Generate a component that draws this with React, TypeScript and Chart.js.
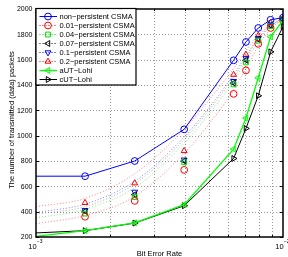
import React, { useEffect, useRef } from 'react';
import { Chart, registerables } from 'chart.js';

Chart.register(...registerables);

// ---- data ----
const BER_SOLID = [0.00063, 0.00158, 0.00251, 0.00398, 0.00631, 0.00708, 0.00794, 0.00891, 0.01];
const BER_SIM = [0.00158, 0.00251, 0.00398, 0.00631, 0.00708, 0.00794, 0.00891, 0.01];
const BER_THEORY = [0.001, 0.00158, 0.00251, 0.00398, 0.00501, 0.00631, 0.00708, 0.00794, 0.00891, 0.01];

const NON_PERSISTENT = [680, 680, 800, 1050, 1595, 1740, 1850, 1915, 1932];
const AUT_LOHI = [160, 250, 312, 455, 893, 1140, 1457, 1781, 1910];
const CUT_LOHI = [214, 250, 310, 447, 820, 1057, 1315, 1662, 1860];

const P001_SIM = [360, 485, 730, 1330, 1515, 1725, 1850, 1910];
const P004_SIM = [385, 516, 790, 1405, 1578, 1750, 1865, 1920];
const P007_SIM = [403, 535, 800, 1415, 1595, 1760, 1870, 1920];
const P01_SIM = [411, 556, 810, 1430, 1610, 1770, 1875, 1925];
const P02_SIM = [470, 625, 880, 1482, 1640, 1790, 1890, 1928];

const P001_THEORY = [305, 370, 520, 860, 1090, 1360, 1530, 1710, 1845, 1915];
const P004_THEORY = [350, 420, 590, 940, 1170, 1430, 1590, 1745, 1860, 1920];
const P007_THEORY = [380, 440, 620, 970, 1200, 1460, 1615, 1760, 1865, 1922];
const P01_THEORY = [395, 460, 640, 990, 1220, 1480, 1630, 1770, 1870, 1925];
const P02_THEORY = [440, 505, 700, 1050, 1280, 1530, 1670, 1790, 1880, 1930];

const LABELS = [
  'non\u2212persistent CSMA',
  '0.01\u2212persistent CSMA',
  '0.04\u2212persistent CSMA',
  '0.07\u2212persistent CSMA',
  '0.1\u2212persistent CSMA',
  '0.2\u2212persistent CSMA',
  'aUT\u2212Lohi',
  'cUT\u2212Lohi',
];

const Y_TICKS = [200, 400, 600, 800, 1000, 1200, 1400, 1600, 1800, 2000];
const X_MINOR = [0.002, 0.003, 0.004, 0.005, 0.006, 0.007, 0.008, 0.009];
const X_MAJOR = [0.001, 0.01];
const X_MAJOR_EXP = ['\u22123', '\u22122'];

const X_TITLE = 'Bit Error Rate';
const Y_TITLE = 'The number of transmitted (data) packets';

// ---- styles ----
type Sty = { color: string; dotted: boolean; style: string; rot: number; width: number };
const STYLES: Sty[] = [
  { color: '#0000ff', dotted: false, style: 'circle', rot: 0, width: 1 },
  { color: '#ff0000', dotted: true, style: 'circle', rot: 0, width: 1 },
  { color: '#00dd00', dotted: true, style: 'rect', rot: 0, width: 1 },
  { color: '#000000', dotted: true, style: 'triangle', rot: 270, width: 1 },
  { color: '#0000ff', dotted: true, style: 'triangle', rot: 180, width: 1 },
  { color: '#ff0000', dotted: true, style: 'triangle', rot: 0, width: 1 },
  { color: '#00ff00', dotted: false, style: 'triangle', rot: 270, width: 1.3 },
  { color: '#000000', dotted: false, style: 'triangle', rot: 90, width: 1 },
];

const FONT = '"Liberation Sans", Arial, Helvetica, sans-serif';
const R = 3.4;

function pts(xs: number[], ys: number[]) {
  return xs.map((x, i) => ({ x, y: ys[i] }));
}

function fade(hex: string, a: number) {
  const n = parseInt(hex.slice(1), 16);
  return `rgba(${(n >> 16) & 255},${(n >> 8) & 255},${n & 255},${a})`;
}

function drawMarker(ctx: CanvasRenderingContext2D, s: Sty, x: number, y: number) {
  ctx.save();
  ctx.strokeStyle = s.color;
  ctx.lineWidth = 1;
  ctx.setLineDash([]);
  ctx.beginPath();
  if (s.style === 'circle') {
    ctx.arc(x, y, R, 0, Math.PI * 2);
  } else if (s.style === 'rect') {
    const h = R * Math.SQRT1_2;
    ctx.rect(x - h, y - h, 2 * h, 2 * h);
  } else {
    let rad = (s.rot * Math.PI) / 180;
    ctx.moveTo(x + Math.sin(rad) * R, y - Math.cos(rad) * R);
    rad += (2 * Math.PI) / 3;
    ctx.lineTo(x + Math.sin(rad) * R, y - Math.cos(rad) * R);
    rad += (2 * Math.PI) / 3;
    ctx.lineTo(x + Math.sin(rad) * R, y - Math.cos(rad) * R);
    ctx.closePath();
  }
  ctx.stroke();
  ctx.restore();
}

const decorPlugin = {
  id: 'matlabDecor',
  beforeDatasetsDraw(chart: any) {
    const { ctx, chartArea: a, scales } = chart;
    const xs = scales.x, ys = scales.y;
    ctx.save();
    ctx.strokeStyle = 'rgba(0,0,0,0.4)';
    ctx.lineWidth = 1;
    ctx.setLineDash([1, 2]);
    for (const v of X_MINOR) {
      const px = Math.round(xs.getPixelForValue(v)) + 0.5;
      ctx.beginPath();
      ctx.moveTo(px, a.top);
      ctx.lineTo(px, a.bottom);
      ctx.stroke();
    }
    for (const v of Y_TICKS.slice(1, -1)) {
      const py = Math.round(ys.getPixelForValue(v)) + 0.5;
      ctx.beginPath();
      ctx.moveTo(a.left, py);
      ctx.lineTo(a.right, py);
      ctx.stroke();
    }
    ctx.restore();
  },
  afterDatasetsDraw(chart: any) {
    const { ctx, chartArea: a, scales } = chart;
    const xs = scales.x, ys = scales.y;
    ctx.save();
    // ticks
    ctx.strokeStyle = '#000';
    ctx.lineWidth = 1;
    ctx.setLineDash([]);
    for (const v of Y_TICKS) {
      const py = Math.round(ys.getPixelForValue(v)) + 0.5;
      ctx.beginPath();
      ctx.moveTo(a.left, py); ctx.lineTo(a.left + 3, py);
      ctx.moveTo(a.right, py); ctx.lineTo(a.right - 3, py);
      ctx.stroke();
    }
    for (const v of X_MINOR) {
      const px = Math.round(xs.getPixelForValue(v)) + 0.5;
      ctx.beginPath();
      ctx.moveTo(px, a.bottom); ctx.lineTo(px, a.bottom - 2);
      ctx.moveTo(px, a.top); ctx.lineTo(px, a.top + 2);
      ctx.stroke();
    }
    // box
    ctx.lineWidth = 1.5;
    ctx.strokeRect(a.left, a.top, a.right - a.left, a.bottom - a.top);

    // y tick labels
    ctx.fillStyle = '#000';
    ctx.font = `7px ${FONT}`;
    ctx.textAlign = 'right';
    ctx.textBaseline = 'middle';
    for (const v of Y_TICKS) {
      ctx.fillText(String(v), a.left - 3.5, ys.getPixelForValue(v) + 0.5);
    }
    // x tick labels
    ctx.textAlign = 'left';
    ctx.textBaseline = 'alphabetic';
    X_MAJOR.forEach((v, i) => {
      const px = xs.getPixelForValue(v);
      ctx.font = `7.5px ${FONT}`;
      ctx.fillText('10', px - 7.7, a.bottom + 11.5);
      ctx.font = `5px ${FONT}`;
      ctx.fillText(X_MAJOR_EXP[i], px + 0.8, a.bottom + 5.8);
    });
    // titles
    ctx.font = `7.5px ${FONT}`;
    ctx.textAlign = 'center';
    ctx.fillText(X_TITLE, (a.left + a.right) / 2, 256);
    ctx.save();
    ctx.translate(13.5, 120);
    ctx.rotate(-Math.PI / 2);
    ctx.fillText(Y_TITLE, 0, 0);
    ctx.restore();

    // legend
    const lx = a.left, ly = 8.5, lw = 100, lh = 76.5;
    ctx.fillStyle = '#fff';
    ctx.fillRect(lx, ly, lw, lh);
    ctx.strokeStyle = '#000';
    ctx.lineWidth = 1.2;
    ctx.strokeRect(lx, ly, lw, lh);
    ctx.font = `7.5px ${FONT}`;
    ctx.textAlign = 'left';
    ctx.textBaseline = 'middle';
    LABELS.forEach((lab, i) => {
      const s = STYLES[i];
      const y = Math.round(15.7 + i * 9.05) + 0.5;
      ctx.save();
      ctx.strokeStyle = s.color;
      ctx.lineWidth = s.width;
      ctx.setLineDash(s.dotted ? [1, 2] : []);
      ctx.beginPath();
      ctx.moveTo(39.5, y); ctx.lineTo(57, y);
      ctx.stroke();
      ctx.restore();
      drawMarker(ctx, s, 48, y);
      ctx.fillStyle = '#000';
      ctx.fillText(lab, 59.5, y + 0.3);
    });
    ctx.restore();
  },
};

export default function App() {
  const ref = useRef<HTMLCanvasElement | null>(null);

  useEffect(() => {
    if (!ref.current) return;
    const sims = [null, P001_SIM, P004_SIM, P007_SIM, P01_SIM, P02_SIM];
    const theories = [null, P001_THEORY, P004_THEORY, P007_THEORY, P01_THEORY, P02_THEORY];
    const datasets: any[] = [];
    for (let i = 1; i <= 5; i++) {
      const s = STYLES[i];
      datasets.push({
        data: pts(BER_THEORY, theories[i] as number[]),
        borderColor: fade(s.color === '#000000' ? '#606060' : s.color, 0.5),
        borderWidth: 1,
        borderDash: [1, 2],
        pointRadius: 0,
        cubicInterpolationMode: 'monotone',
        order: 10,
      });
    }
    for (let i = 1; i <= 5; i++) {
      const s = STYLES[i];
      datasets.push({
        data: pts(BER_SIM, sims[i] as number[]),
        showLine: false,
        pointStyle: s.style,
        rotation: s.rot,
        pointRadius: R,
        pointBorderColor: s.color,
        pointBackgroundColor: 'rgba(0,0,0,0)',
        pointBorderWidth: 1,
        order: 5,
      });
    }
    const solid: [number, number[]][] = [[0, NON_PERSISTENT], [6, AUT_LOHI], [7, CUT_LOHI]];
    for (const [i, ys] of solid) {
      const s = STYLES[i];
      datasets.push({
        data: pts(BER_SOLID, ys),
        borderColor: s.color,
        borderWidth: s.width,
        pointStyle: s.style,
        rotation: s.rot,
        pointRadius: BER_SOLID.map((_, k) => (k === 0 ? 0 : R)),
        pointBorderColor: s.color,
        pointBackgroundColor: 'rgba(0,0,0,0)',
        pointBorderWidth: 1,
        order: 1,
      });
    }

    const chart = new Chart(ref.current, {
      type: 'line',
      data: { datasets },
      options: {
        responsive: false,
        animation: false,
        devicePixelRatio: 1,
        events: [],
        layout: { padding: { left: 36, right: 4, top: 9, bottom: 20 } },
        plugins: { legend: { display: false }, tooltip: { enabled: false } },
        scales: {
          x: { type: 'logarithmic', min: 0.001, max: 0.01, display: false },
          y: { type: 'linear', min: 200, max: 2000, display: false },
        },
      },
      plugins: [decorPlugin],
    });
    return () => chart.destroy();
  }, []);

  return (
    <div style={{ position: 'fixed', left: 0, top: 0, width: 288, height: 257, background: '#fff' }}>
      <canvas ref={ref} width={288} height={257} />
    </div>
  );
}
